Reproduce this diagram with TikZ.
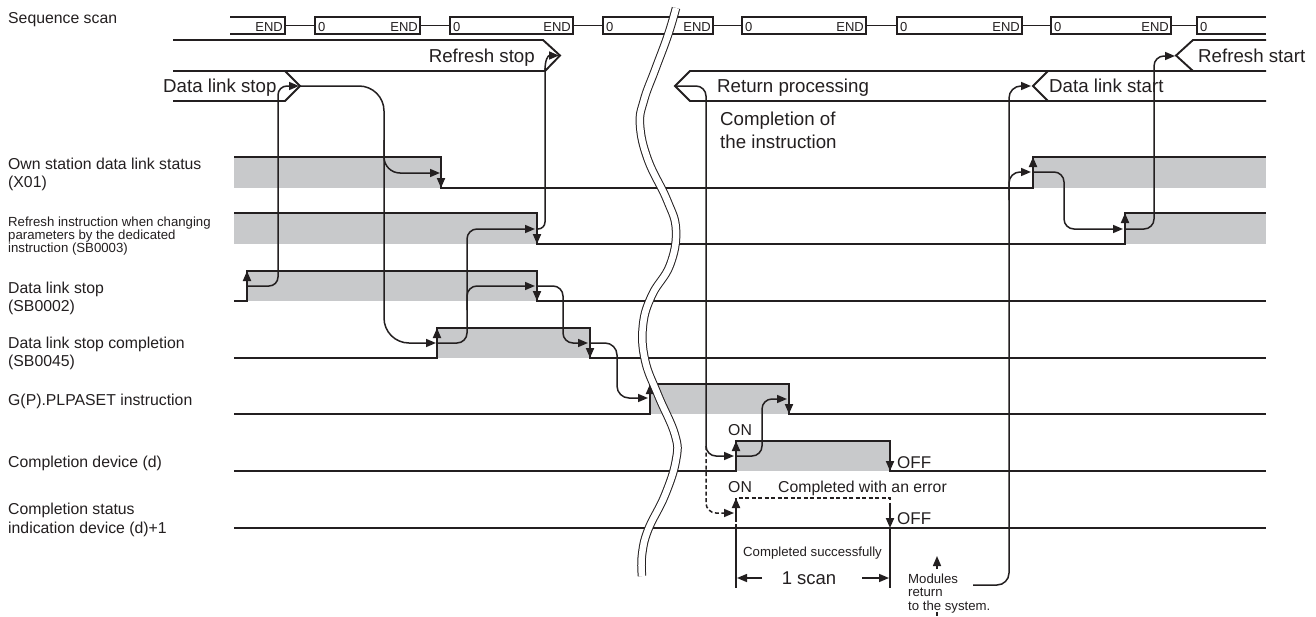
\documentclass[tikz,border=0pt]{standalone}
\usepackage{fontspec}
\setmainfont{Liberation Sans}
\usetikzlibrary{arrows.meta}
\definecolor{ink}{RGB}{35,31,32}
\definecolor{sgray}{RGB}{200,201,203}
\begin{document}
\begin{tikzpicture}[x=1pt,y=-1pt,
  sig/.style={ink,line width=1.9pt},
  band/.style={ink,line width=1.9pt,line join=miter},
  seq/.style={ink,line width=1.5pt},
  conn/.style={ink,line width=1.5pt},
  arr/.style={-{Triangle[length=10pt,width=8pt]}},
  dsh/.style={dash pattern=on 4pt off 2.5pt},
  lbl/.style={anchor=base west,inner sep=0pt,text=ink,font=\fontsize{15.8}{19}\selectfont},
  blbl/.style={anchor=base west,inner sep=0pt,text=ink,font=\fontsize{18.7}{22}\selectfont},
  slbl/.style={anchor=base west,inner sep=0pt,text=ink,font=\fontsize{13.2}{13.3}\selectfont},
  endt/.style={anchor=base east,inner sep=0pt,text=ink,font=\fontsize{13}{13}\selectfont},
  zt/.style={anchor=base west,inner sep=0pt,text=ink,font=\fontsize{13}{13}\selectfont}]
\fill[white] (0,0) rectangle (1316,616);
\useasboundingbox (0,0) rectangle (1316,616);

% ---------- row labels ----------
\node[lbl] (l0) at (8,23) {Sequence scan};
\node[lbl] (l1a) at (8,169) {Own station data link status};
\node[lbl] (l1b) at (8,187) {(X01)};
\node[slbl] (l2a) at (8,226) {Refresh instruction when changing};
\node[slbl] (l2b) at (8,239) {parameters by the dedicated};
\node[slbl] (l2c) at (8,252) {instruction (SB0003)};
\node[lbl] (l3a) at (8,293) {Data link stop};
\node[lbl] (l3b) at (8,311) {(SB0002)};
\node[lbl] (l4a) at (8,348) {Data link stop completion};
\node[lbl] (l4b) at (8,366) {(SB0045)};
\node[lbl] (l5) at (8,405) {G(P).PLPASET instruction};
\node[lbl] (l6) at (8,467) {Completion device (d)};
\node[lbl] (l7a) at (8,514) {Completion status};
\node[lbl] (l7b) at (8,533) {indication device (d)+1};

% ---------- sequence scan ----------
\draw[seq] (230,17) -- (285,17) -- (285,34) -- (230,34);
\node[endt] (e0) at (283,31) {END};
\foreach \a/\b [count=\i] in {315/420,450/573,603/713,742/866,897/1022,1051/1171}{
  \draw[seq] (\a,17) rectangle (\b,34);
  \node[zt] (z\i) at (\a+3,31) {0};
  \node[endt] (e\i) at (\b-2,31) {END};
}
\foreach \a/\b in {285/315,420/450,573/603,713/742,866/897,1022/1051,1171/1197}{
  \draw[seq] (\a,25.5) -- (\b,25.5);
}
\draw[seq] (1266,17) -- (1197,17) -- (1197,34) -- (1266,34);
\node[zt] (z7) at (1200,31) {0};

% ---------- bands ----------
\draw[band] (173,40) -- (543,40) -- (560,55.5) -- (545,71);
\draw[band] (173,71) -- (545,71);
\draw[band] (285,71) -- (300,86) -- (285,101) -- (173,101);
\draw[band] (1266,71) -- (690,71) -- (675,86) -- (690,101) -- (1266,101);
\draw[band] (1048,71) -- (1033,86) -- (1048,101);
\draw[band] (1266,40) -- (1193,40) -- (1176,55.5) -- (1193,71);
\node[blbl,anchor=base east] (trs) at (535,62) {Refresh stop};
\node[blbl] (tds) at (163,92) {Data link stop};
\node[blbl] (trp) at (717,92) {Return processing};
\node[blbl] (tdst) at (1049,92) {Data link start};
\node[blbl] (trst) at (1198,62) {Refresh start};
\node[blbl] (tc1) at (720,125) {Completion of};
\node[blbl] (tc2) at (720,148) {the instruction};

% ---------- gray fills ----------
\fill[sgray] (234,157) rectangle (441,188);
\fill[sgray] (1033,157) rectangle (1266,188);
\fill[sgray] (234,213) rectangle (537,244);
\fill[sgray] (1125,213) rectangle (1266,244);
\fill[sgray] (247,271) rectangle (537,301);
\fill[sgray] (437,328) rectangle (590,358);
\fill[sgray] (650,384) rectangle (789,414);
\fill[sgray] (736,441) rectangle (890,471);

% ---------- signals ----------
\draw[sig] (234,157) -- (441,157) -- (441,188) -- (1033,188) -- (1033,157) -- (1266,157);
\draw[sig] (234,213) -- (537,213) -- (537,244) -- (1125,244) -- (1125,213) -- (1266,213);
\draw[sig] (234,301) -- (247,301) -- (247,271) -- (537,271) -- (537,301) -- (1266,301);
\draw[sig] (234,358) -- (437,358) -- (437,328) -- (590,328) -- (590,358) -- (1266,358);
\draw[sig] (234,414) -- (650,414) -- (650,384) -- (789,384) -- (789,414) -- (1266,414);
\draw[sig] (234,471) -- (736,471) -- (736,441) -- (890,441) -- (890,471) -- (1266,471);
\draw[sig] (234,528) -- (1266,528);
\draw[sig,dsh] (736,528) -- (736,498) -- (890,498) -- (890,528);

% edge arrowheads
\draw[sig,arr] (441,160) -- (441,188);
\draw[sig,arr] (537,216) -- (537,244);
\draw[sig,arr] (247,298) -- (247,271);
\draw[sig,arr] (537,274) -- (537,301);
\draw[sig,arr] (437,355) -- (437,328);
\draw[sig,arr] (590,331) -- (590,358);
\draw[sig,arr] (650,411) -- (650,384);
\draw[sig,arr] (789,387) -- (789,414);
\draw[sig,arr] (736,468) -- (736,441);
\draw[sig,arr] (890,444) -- (890,471);
\draw[sig,arr] (736,520) -- (736,498);
\draw[sig,arr] (890,506) -- (890,528);
\draw[sig,arr] (1033,185) -- (1033,157);
\draw[sig,arr] (1125,241) -- (1125,213);

% ---------- break ----------
\draw[ink,line width=1pt,double=white,double distance=6.5pt]
  plot[smooth,tension=0.7] coordinates {(676,8) (668,35) (655,70) (644,100) (640,125)
  (648,160) (667,200) (676,230) (670,265) (652,295) (643,325) (645,360) (658,395)
  (675,435) (676,460) (665,495) (648,530) (642,555) (642,576)};

% ---------- connectors ----------
\draw[conn,rounded corners=9pt,arr] (247,286) -- (278,286) -- (278,86) -- (299,86);
\draw[conn,rounded corners=25pt,arr] (300,86) -- (384,86) -- (384,343) -- (436,343);
\draw[conn,rounded corners=16pt,arr] (384,140) -- (384,173) -- (440,173);
\draw[conn,rounded corners=10pt,arr] (437,343) -- (467,343) -- (467,229) -- (535,229);
\draw[conn,rounded corners=10pt,arr] (467,310) -- (467,286) -- (535,286);
\draw[conn,rounded corners=10pt,arr] (537,286) -- (563,286) -- (563,343) -- (588,343);
\draw[conn,rounded corners=7pt] (537,229) -| (545,68);
\draw[conn,arr] (545,70) .. controls (545,60) and (548,55.5) .. (559,55.5);
\draw[conn,rounded corners=12pt,arr] (590,343) -- (617,343) -- (617,398) -- (648,398);
\draw[conn,rounded corners=10pt,arr] (675,86) -- (706,86) -- (706,456) -- (734,456);
\draw[conn,dsh,rounded corners=10pt,arr] (706,446) -- (706,513) -- (734,513);
\draw[conn,rounded corners=10pt,arr] (736,456) -- (762,456) -- (762,399) -- (787,399);
\draw[conn,rounded corners=12pt,arr] (973,585) -- (1009,585) -- (1009,86) -- (1031,86);
\draw[conn,rounded corners=11pt,arr] (1009,200) -- (1009,172) -- (1031,172);
\draw[conn,rounded corners=10pt,arr] (1033,172) -- (1064,172) -- (1064,229) -- (1123,229);
\draw[conn,rounded corners=10pt,arr] (1125,229) -- (1154,229) -- (1154,56) -- (1175,56);

% ---------- completion annotations ----------
\node[lbl] (on1) at (728,435) {ON};
\node[lbl,font=\fontsize{17}{19}\selectfont] (off1) at (897,468) {OFF};
\node[lbl] (on2) at (728,492) {ON};
\node[lbl] (err) at (778,492) {Completed with an error};
\node[lbl,font=\fontsize{17}{19}\selectfont] (off2) at (897,524) {OFF};
\draw[sig] (736,528) -- (736,588);
\draw[sig] (890,528) -- (890,588);
\node[slbl] (succ) at (743,556) {Completed successfully};
\node[lbl,anchor=base,font=\fontsize{18.5}{20}\selectfont] (scan) at (809,584) {1 scan};
\draw[conn,arr] (762,578) -- (737,578);
\draw[conn,arr] (862,578) -- (889,578);
\node[slbl] (m1) at (908,583) {Modules};
\node[slbl] (m2) at (908,596) {return};
\node[slbl] (m3) at (908,610) {to the system.};
\draw[conn,arr] (937,569) -- (937,556);
\draw[conn] (937,612) -- (937,616);
\end{tikzpicture}
\end{document}
